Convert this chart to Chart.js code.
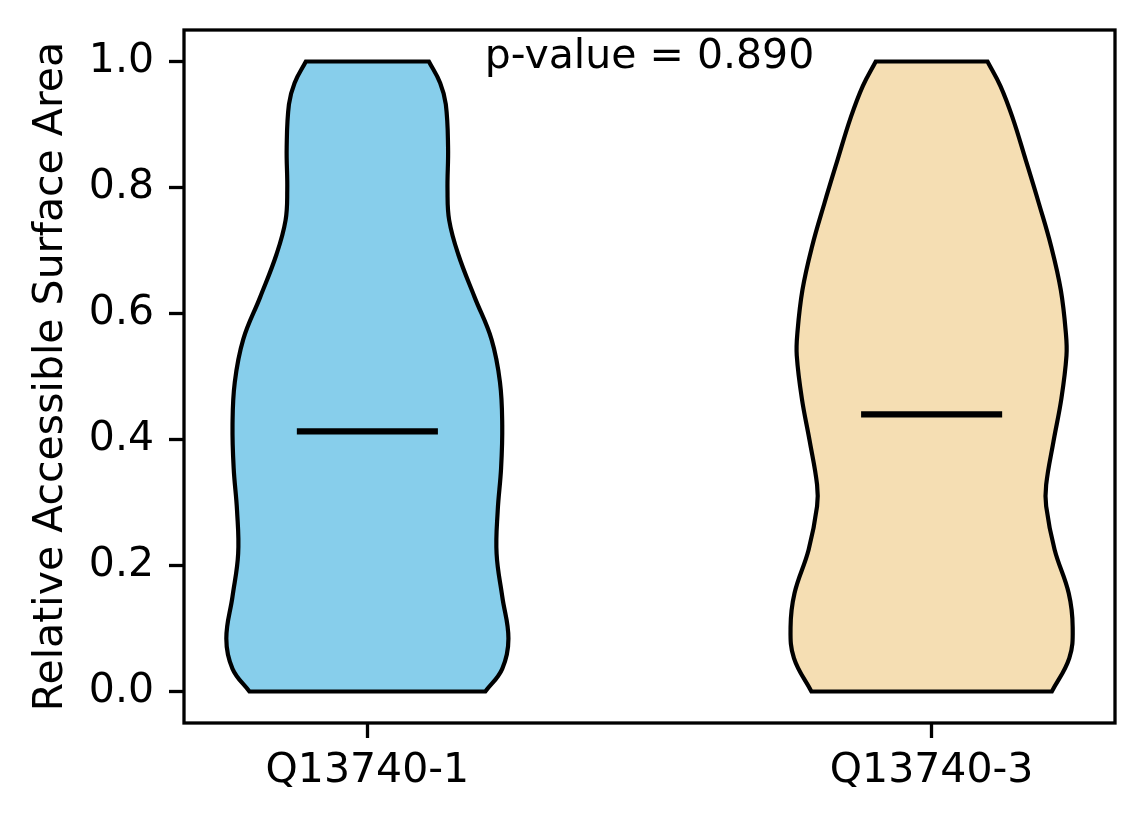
<!DOCTYPE html>
<html>
<head>
<meta charset="utf-8">
<title>Relative Accessible Surface Area</title>
<script src="https://cdn.jsdelivr.net/npm/chart.js@4/dist/chart.umd.min.js"></script>
<style>
  html, body { margin: 0; padding: 0; background: #fff; }
  #chartBox { width: 1144px; height: 824px; }
</style>
</head>
<body>
<div id="chartBox"><canvas id="violinChart" width="1144" height="824"></canvas></div>
<script>
// Data
const categories = ['Q13740-1', 'Q13740-3'];
const positions = [1, 2];

// violin outlines: y levels and half-widths (in x units)
const levels1 = [0, 0.036, 0.084, 0.151, 0.219, 0.287, 0.355, 0.423, 0.491, 0.559, 0.626, 0.694, 0.748, 0.796, 0.864, 0.932, 0.966, 1.0];
const halfWidths1 = [0.209, 0.239, 0.250, 0.239, 0.229, 0.231, 0.237, 0.239, 0.235, 0.220, 0.190, 0.161, 0.145, 0.142, 0.143, 0.139, 0.129, 0.109];
const levels2 = [0, 0.053, 0.102, 0.156, 0.225, 0.294, 0.328, 0.397, 0.465, 0.533, 0.568, 0.637, 0.706, 0.775, 0.843, 0.912, 0.961, 1.0];
const halfWidths2 = [0.213, 0.244, 0.250, 0.243, 0.218, 0.203, 0.203, 0.216, 0.230, 0.239, 0.238, 0.229, 0.212, 0.190, 0.167, 0.143, 0.122, 0.099];

const medians = [0.413, 0.440];
const medianHalfLength = 0.125;
const yTicks = [0, 0.2, 0.4, 0.6, 0.8, 1.0];
const pValueLabel = 'p-value = 0.890';

// Styles
const fillColors = ['#87ceeb', '#f5deb3'];
const pValueAnchor = { x: 1.5, y: 0.99 };
const fontSize = 41;

Chart.defaults.font.family = "'DejaVu Sans', sans-serif";
Chart.defaults.font.size = fontSize;
Chart.defaults.color = '#000';

// closed outline of one violin; corners doubled so the curve keeps them sharp
function violinOutline(center, levels, halfWidths) {
    const n = levels.length;
    const left = levels.map((y, i) => ({ x: center - halfWidths[i], y: y }));
    const right = levels.map((y, i) => ({ x: center + halfWidths[i], y: y })).reverse();
    const start = { x: center, y: levels[0] };
    return [start, left[0], ...left, left[n - 1], right[0], ...right, right[n - 1], start];
}

const outlines = [
    violinOutline(positions[0], levels1, halfWidths1),
    violinOutline(positions[1], levels2, halfWidths2)
];

const violinSets = positions.map((pos, i) => ({
    label: categories[i],
    data: outlines[i],
    showLine: true,
    fill: 'shape',
    backgroundColor: fillColors[i],
    borderColor: '#000',
    borderWidth: 4.2,
    pointRadius: 0,
    tension: 0.4,
    order: 2
}));

const medianSets = positions.map((pos, i) => ({
    label: categories[i] + ' median',
    data: [
        { x: pos - medianHalfLength, y: medians[i] },
        { x: pos + medianHalfLength, y: medians[i] }
    ],
    showLine: true,
    fill: false,
    borderColor: '#000',
    borderWidth: 6.2,
    borderCapStyle: 'butt',
    pointRadius: 0,
    order: 1
}));

// axes frame and p-value text
const framePlugin = {
    id: 'frameAndText',
    afterDraw(chart) {
        const { ctx, chartArea, scales } = chart;
        ctx.save();
        ctx.strokeStyle = '#000';
        ctx.lineWidth = 3.3;
        ctx.strokeRect(chartArea.left, chartArea.top,
            chartArea.right - chartArea.left, chartArea.bottom - chartArea.top);
        ctx.fillStyle = '#000';
        ctx.font = fontSize + "px 'DejaVu Sans', sans-serif";
        ctx.textAlign = 'center';
        ctx.textBaseline = 'alphabetic';
        ctx.fillText(pValueLabel,
            scales.x.getPixelForValue(pValueAnchor.x),
            scales.y.getPixelForValue(pValueAnchor.y));
        ctx.restore();
    }
};

const tickGrid = {
    drawOnChartArea: false,
    drawTicks: true,
    tickLength: 15,
    tickWidth: 3.3,
    tickColor: '#000'
};

new Chart('violinChart', {
    type: 'scatter',
    data: { datasets: [...medianSets, ...violinSets] },
    options: {
        responsive: false,
        animation: false,
        events: [],
        layout: { padding: { top: 30, right: 29, bottom: 0, left: 0 } },
        plugins: {
            legend: { display: false },
            tooltip: { enabled: false }
        },
        scales: {
            x: {
                type: 'linear',
                min: 0.675,
                max: 2.325,
                afterFit: s => {
                    s.height = 101;
                    s.paddingLeft = 0;
                    s.paddingRight = 0;
                },
                afterBuildTicks: s => { s.ticks = positions.map(v => ({ value: v })); },
                ticks: {
                    callback: v => categories[positions.indexOf(v)],
                    padding: 9,
                    maxRotation: 0,
                    autoSkip: false
                },
                grid: tickGrid,
                border: { display: false }
            },
            y: {
                type: 'linear',
                min: -0.05,
                max: 1.05,
                afterFit: s => {
                    s.width = 184;
                    s.paddingTop = 0;
                    s.paddingBottom = 0;
                },
                afterBuildTicks: s => { s.ticks = yTicks.map(v => ({ value: v })); },
                ticks: {
                    callback: v => v.toFixed(1),
                    padding: 15,
                    autoSkip: false
                },
                grid: tickGrid,
                border: { display: false },
                title: {
                    display: true,
                    text: 'Relative Accessible Surface Area',
                    padding: { top: 27, bottom: 0 }
                }
            }
        }
    },
    plugins: [framePlugin]
});
</script>
</body>
</html>
